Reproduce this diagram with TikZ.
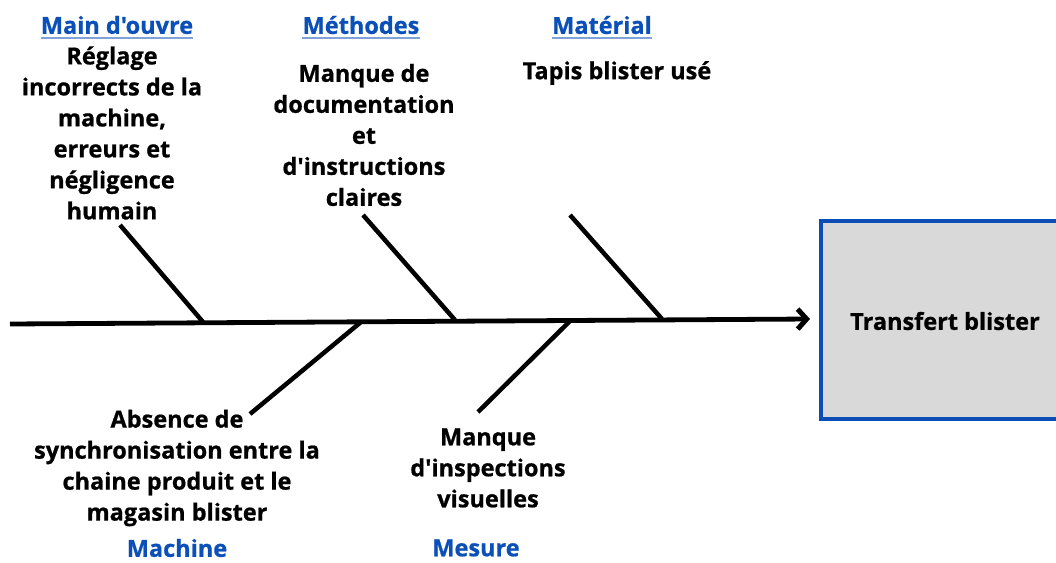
\documentclass[tikz,border=0pt]{standalone}
\usepackage{fontspec}
\setmainfont{Open Sans}[UprightFont=* Bold, UprightFeatures={FakeBold=0.8}, Ligatures=TeXOff]
\usetikzlibrary{arrows.meta}
\definecolor{catblue}{HTML}{0B4FB8}
\definecolor{linkline}{HTML}{7FA3D9}
\definecolor{boxfill}{HTML}{D9D9D9}
\definecolor{boxedge}{HTML}{0A4DB5}
\tikzset{
  bone/.style={line width=4.5pt, line cap=butt},
  cause/.style={align=center, font=\fontsize{23.5}{31}\selectfont, inner sep=0pt},
  category/.style={text=catblue, font=\fontsize{23.5}{27}\selectfont, inner sep=0pt},
  uline/.style={linkline, line width=1.8pt},
}
\begin{document}
\begin{tikzpicture}[x=1pt, y=-1pt]
\useasboundingbox (0,0) rectangle (1056,562);

% effect box
\node[draw=boxedge, line width=4pt, fill=boxfill, minimum width=240pt, minimum height=198pt,
      inner sep=0pt] (box) at (941,320) {};
\node[font=\fontsize{23.5}{27}\selectfont, inner sep=0pt] (effect) at (945,321) {Transfert blister};

% spine
\coordinate (tail) at (10,324);
\coordinate (head) at (810,319);
\draw[line width=4.8pt, -{Straight Barb[length=9pt, width=20pt, line width=5pt]}] (tail) -- (head);

% bone ends
\coordinate (mo1) at (120,225);  \coordinate (mo2) at (203,322);
\coordinate (me1) at (363,215);  \coordinate (me2) at (455,320);
\coordinate (ma1) at (570,215);  \coordinate (ma2) at (662,319);
\coordinate (mc1) at (361,322);  \coordinate (mc2) at (250,414);
\coordinate (ms1) at (570,321);  \coordinate (ms2) at (478,412);
\draw[bone] (mo1) -- (mo2);
\draw[bone] (me1) -- (me2);
\draw[bone] (ma1) -- (ma2);
\draw[bone] (mc1) -- (mc2);
\draw[bone] (ms1) -- (ms2);

% categories
\node[category] (cMo) at (117,25) {Main d'ouvre};
\node[category] (cMe) at (361,25) {Méthodes};
\node[category] (cMa) at (602,25) {Matérial};
\node[category] (cMc) at (177,548) {Machine};
\node[category] (cMs) at (476,548) {Mesure};
\foreach \n in {cMo,cMe,cMa}
  \draw[uline] ([yshift=-4pt]\n.base west) -- ([yshift=-4pt]\n.base east);

% causes
\node[cause] (tMo) at (112,133) {Réglage\\incorrects de la\\machine,\\erreurs et\\négligence\\humain};
\node[cause] (tMe) at (364,135) {Manque de\\documentation\\et\\d'instructions\\claires};
\node[cause] (tMa) at (617,73) {Tapis blister usé};
\node[cause] (tMc) at (177,468) {Absence de\\synchronisation entre la\\chaine produit et le\\magasin blister};
\node[cause] (tMs) at (488,468) {Manque\\d'inspections\\visuelles};
\end{tikzpicture}
\end{document}
